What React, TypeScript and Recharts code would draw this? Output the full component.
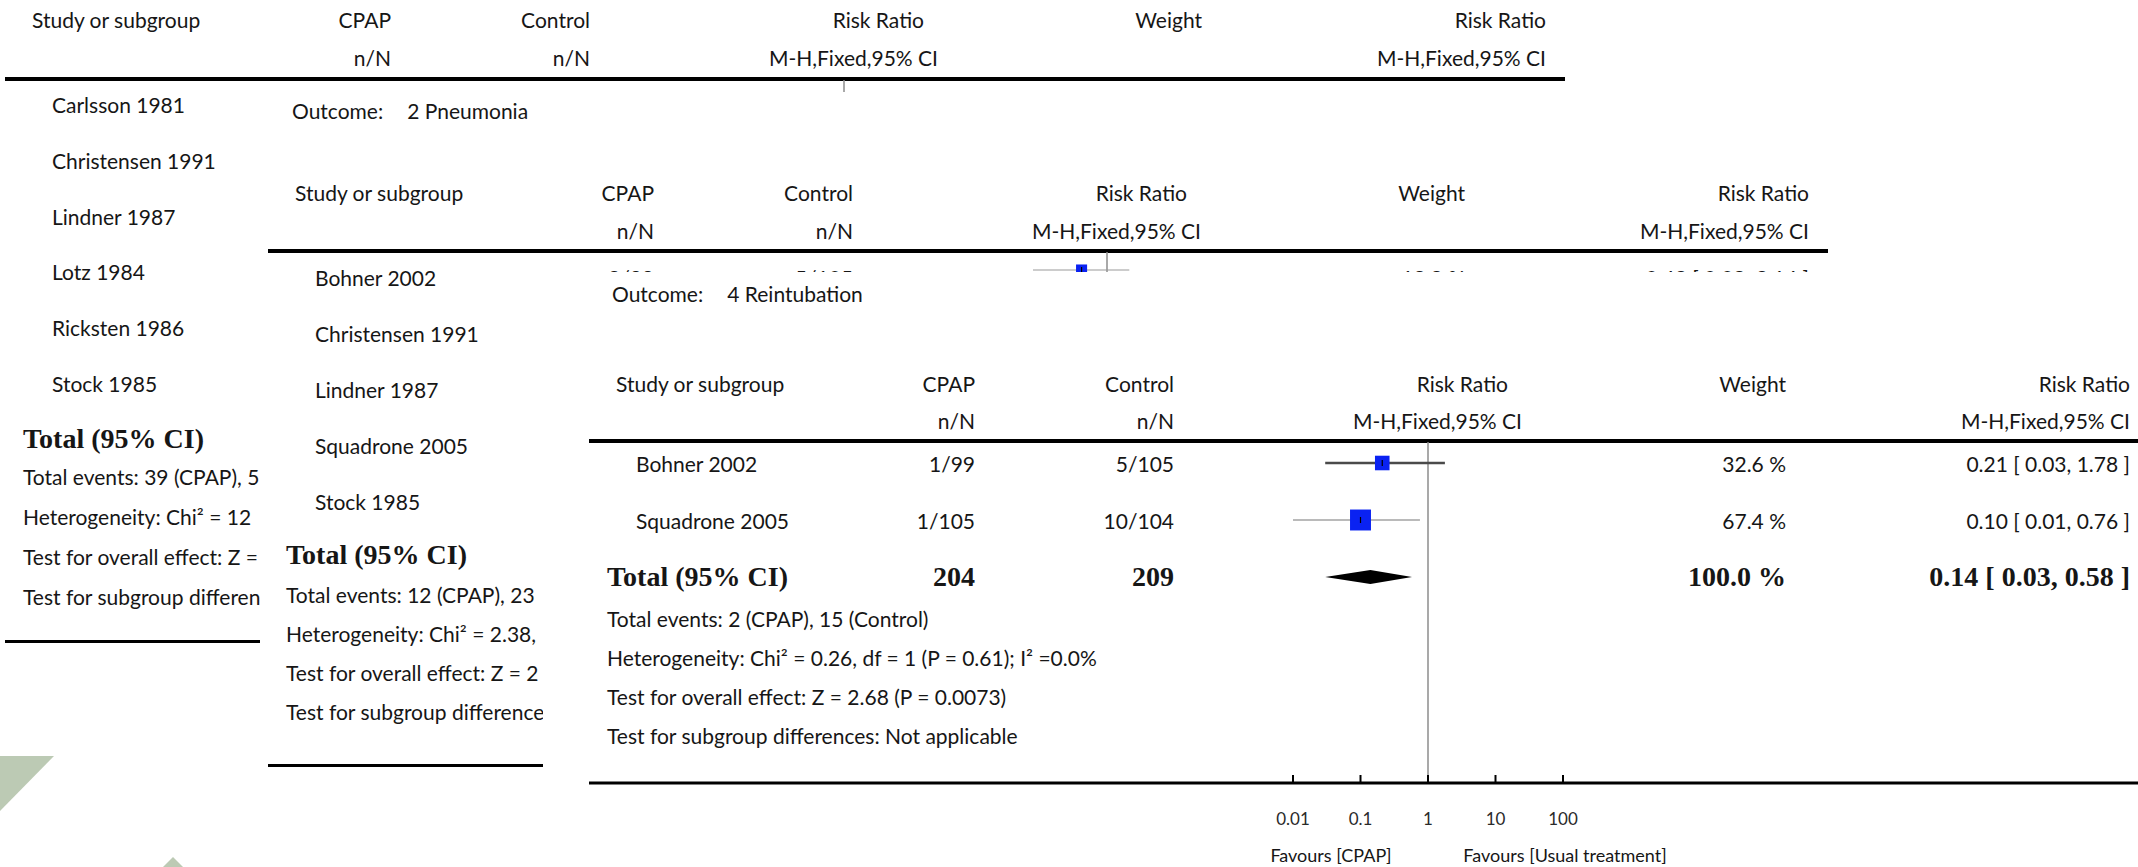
import React from 'react';
import { ComposedChart, XAxis, YAxis, Scatter, ReferenceLine } from 'recharts';

const W = 2138;
const H = 867;
const DECADE_PX = 67.5;

const FONT = "Lato, 'Open Sans', sans-serif";
const SERIF = "'Liberation Serif', 'Times New Roman', serif";
const INK = '#161616';

// Outcome 4: Reintubation
const reintStudies = ['Bohner 2002', 'Squadrone 2005'];
const reintCpap = ['1/99', '1/105'];
const reintControl = ['5/105', '10/104'];
const reintWeight = [32.6, 67.4];
const reintRR = [0.21, 0.1];
const reintLow = [0.03, 0.01];
const reintHigh = [1.78, 0.76];
const reintTotalN = [204, 209];
const reintTotalRR = [0.14, 0.03, 0.58];
const reintStats = [
  'Total events: 2 (CPAP), 15 (Control)',
  'Heterogeneity: Chi² = 0.26, df = 1 (P = 0.61); I² =0.0%',
  'Test for overall effect: Z = 2.68 (P = 0.0073)',
  'Test for subgroup differences: Not applicable',
];

// Outcome 2: Pneumonia (only the first row's numbers peek out)
const pneuStudies = ['Bohner 2002', 'Christensen 1991', 'Lindner 1987', 'Squadrone 2005', 'Stock 1985'];
const pneuCpap = ['2/99'];
const pneuControl = ['5/105'];
const pneuWeight = [18.8];
const pneuRR = [0.42];
const pneuLow = [0.08];
const pneuHigh = [2.14];
const pneuStats = [
  'Total events: 12 (CPAP), 23',
  'Heterogeneity: Chi² = 2.38,',
  'Test for overall effect: Z = 2',
  'Test for subgroup difference',
];

// first outcome (back sheet)
const firstStudies = ['Carlsson 1981', 'Christensen 1991', 'Lindner 1987', 'Lotz 1984', 'Ricksten 1986', 'Stock 1985'];
const firstStats = [
  'Total events: 39 (CPAP), 5',
  'Heterogeneity: Chi² = 12',
  'Test for overall effect: Z =',
  'Test for subgroup differen',
];

const axisTicks = [0.01, 0.1, 1, 10, 100];

// column anchors of the front sheet; the other sheets are shifted by dx
const COLS = {
  head: 616,
  study: 636,
  total: 607,
  cpap: 975,
  control: 1174,
  rrHead: 1508,
  mh: 1522,
  weight: 1786,
  ci: 2130,
  nullX: 1428,
  ruleL: 589,
  ruleR: 2149,
};

const fmtCI = (e: number, l: number, h: number) => `${e.toFixed(2)} [ ${l.toFixed(2)}, ${h.toFixed(2)} ]`;

type TxtProps = {
  x: number;
  y: number;
  anchor?: 'start' | 'middle' | 'end';
  size?: number;
  bold?: boolean;
  serif?: boolean;
  color?: string;
  children: React.ReactNode;
};

function Txt({ x, y, anchor = 'start', size = 21, bold = false, serif = false, color = INK, children }: TxtProps) {
  const tx = anchor === 'end' ? '-100%' : anchor === 'middle' ? '-50%' : '0';
  return (
    <div
      style={{
        position: 'absolute',
        left: x,
        top: y,
        transform: `translate(${tx}, -50%)`,
        fontFamily: serif ? SERIF : FONT,
        fontWeight: bold ? 700 : 400,
        fontSize: size,
        lineHeight: 1,
        color,
        whiteSpace: 'nowrap',
      }}
    >
      {children}
    </div>
  );
}

function Rule({ x1, x2, y, w = 3.5 }: { x1: number; x2: number; y: number; w?: number }) {
  return <div style={{ position: 'absolute', left: x1, top: y - w / 2, width: x2 - x1, height: w, background: '#000' }} />;
}

function Sheet({ left, top, right, bottom }: { left: number; top: number; right: number; bottom: number }) {
  return <div style={{ position: 'absolute', left, top, width: right - left, height: bottom - top, background: '#fff' }} />;
}

// page-sized clipping box
function Clip({ right = W, bottom = H, children }: { right?: number; bottom?: number; children: React.ReactNode }) {
  return <div style={{ position: 'absolute', left: 0, top: 0, width: right, height: bottom, overflow: 'hidden' }}>{children}</div>;
}

type Layout = {
  dx: number;
  head: [number, number];
  rule: number;
  rowY: number;
  rowH: number;
  totalY: number;
  statsY: number;
  statsGap: number;
  bottomRule?: number;
  statsClip?: number;
  valuesClip?: number;
};

type TableProps = {
  L: Layout;
  studies: string[];
  cpap: string[];
  control: string[];
  weight: number[];
  rr: number[];
  low: number[];
  high: number[];
  stats: string[];
  totalN?: number[];
  totalRR?: number[];
};

function Table({ L, studies, cpap, control, weight, rr, low, high, stats, totalN, totalRR }: TableProps) {
  const c = (k: keyof typeof COLS) => COLS[k] + L.dx;
  const [h1, h2] = L.head;
  return (
    <>
      <Txt x={c('head')} y={h1}>Study or subgroup</Txt>
      <Txt x={c('cpap')} y={h1} anchor="end">CPAP</Txt>
      <Txt x={c('control')} y={h1} anchor="end">Control</Txt>
      <Txt x={c('rrHead')} y={h1} anchor="end">Risk Ratio</Txt>
      <Txt x={c('weight')} y={h1} anchor="end">Weight</Txt>
      <Txt x={c('ci')} y={h1} anchor="end">Risk Ratio</Txt>
      <Txt x={c('cpap')} y={h2} anchor="end">n/N</Txt>
      <Txt x={c('control')} y={h2} anchor="end">n/N</Txt>
      <Txt x={c('mh')} y={h2} anchor="end">M-H,Fixed,95% CI</Txt>
      <Txt x={c('ci')} y={h2} anchor="end">M-H,Fixed,95% CI</Txt>
      <Rule x1={c('ruleL')} x2={c('ruleR')} y={L.rule} />

      {studies.map((s, i) => (
        <Txt key={s} x={c('study')} y={L.rowY + i * L.rowH}>{s}</Txt>
      ))}
      <Clip bottom={L.valuesClip}>
        {rr.map((v, i) => {
          const y = L.rowY + i * L.rowH;
          return (
            <React.Fragment key={i}>
              <Txt x={c('cpap')} y={y} anchor="end">{cpap[i]}</Txt>
              <Txt x={c('control')} y={y} anchor="end">{control[i]}</Txt>
              <Txt x={c('weight')} y={y} anchor="end">{`${weight[i].toFixed(1)} %`}</Txt>
              <Txt x={c('ci')} y={y} anchor="end">{fmtCI(v, low[i], high[i])}</Txt>
            </React.Fragment>
          );
        })}
      </Clip>

      <Txt x={c('total')} y={L.totalY} size={28} bold serif>Total (95% CI)</Txt>
      {totalN && totalRR && (
        <>
          <Txt x={c('cpap')} y={L.totalY} anchor="end" size={28} bold serif>{totalN[0]}</Txt>
          <Txt x={c('control')} y={L.totalY} anchor="end" size={28} bold serif>{totalN[1]}</Txt>
          <Txt x={c('weight')} y={L.totalY} anchor="end" size={28} bold serif>
            {`${weight.reduce((a, b) => a + b, 0).toFixed(1)} %`}
          </Txt>
          <Txt x={c('ci')} y={L.totalY} anchor="end" size={28} bold serif>
            {fmtCI(totalRR[0], totalRR[1], totalRR[2])}
          </Txt>
        </>
      )}

      <Clip right={L.statsClip}>
        {stats.map((s, i) => (
          <Txt key={s} x={c('total')} y={L.statsY + i * L.statsGap}>{s}</Txt>
        ))}
      </Clip>
      {L.bottomRule !== undefined && <Rule x1={c('ruleL')} x2={c('ruleR')} y={L.bottomRule} w={3} />}
    </>
  );
}

function Square(props: any) {
  const { cx, cy, payload } = props;
  const s = 2.55 * Math.sqrt(payload.w);
  return (
    <g>
      <rect x={cx - s / 2} y={cy - s / 2} width={s} height={s} fill="#0a22f2" />
      <line x1={cx} x2={cx} y1={cy - 3} y2={cy + 3} stroke="#000" strokeWidth={1.2} />
    </g>
  );
}

const noShape = () => <g />;

// filled diamond through the lower bound, estimate and upper bound
const diamond = (props: any) => {
  const [a, m, b] = props.points;
  const h = 7;
  return <polygon points={`${a.x},${a.y} ${m.x},${m.y - h} ${b.x},${b.y} ${m.x},${m.y + h}`} fill="#000" />;
};

function AxisTick(props: any) {
  const { x, y, payload } = props;
  return (
    <g>
      <line x1={x} x2={x} y1={y - 8} y2={y} stroke="#000" strokeWidth={2} />
      <text x={x} y={y + 35} textAnchor="middle" dominantBaseline="central" fontFamily={FONT} fontSize={17} fill="#2a2a2a">
        {payload.value}
      </text>
    </g>
  );
}

type ForestProps = {
  nullX: number;
  plotLeft: number;
  plotRight: number;
  plotTop: number;
  plotBottom: number;
  markY: number;
  rowH: number;
  rr: number[];
  low: number[];
  high: number[];
  weight: number[];
  ciStyle: { stroke: string; width: number }[];
  total?: number[];
  withAxis?: boolean;
};

function Forest({ nullX, plotLeft, plotRight, plotTop, plotBottom, markY, rowH, rr, low, high, weight, ciStyle, total, withAxis = false }: ForestProps) {
  const xDomain = [10 ** ((plotLeft - nullX) / DECADE_PX), 10 ** ((plotRight - nullX) / DECADE_PX)];
  const yDomain = [(plotTop - markY) / rowH, (plotBottom - markY) / rowH];
  const squares = rr.map((v, i) => ({ x: v, y: i, w: weight[i] }));
  const totalRow = rr.length;
  const diamondPts = total ? [total[1], total[0], total[2]].map((x) => ({ x, y: totalRow })) : [];

  return (
    <div style={{ position: 'absolute', left: 0, top: 0, width: W, height: H }}>
      <ComposedChart
        width={W}
        height={H}
        margin={{ top: plotTop, left: plotLeft, right: W - plotRight, bottom: withAxis ? 0 : H - plotBottom }}
      >
        <XAxis
          type="number"
          dataKey="x"
          scale="log"
          domain={xDomain}
          allowDataOverflow
          hide={!withAxis}
          height={withAxis ? H - plotBottom : 0}
          ticks={axisTicks}
          interval={0}
          tickLine={false}
          tickSize={0}
          tickMargin={0}
          tick={<AxisTick />}
          axisLine={{ stroke: '#000', strokeWidth: 3 }}
        />
        <YAxis type="number" dataKey="y" domain={yDomain} reversed allowDataOverflow hide />
        <ReferenceLine x={1} stroke="#8c8c8c" strokeWidth={1.5} />
        {rr.map((_, i) => (
          <ReferenceLine
            key={i}
            segment={[{ x: low[i], y: i }, { x: high[i], y: i }]}
            stroke={ciStyle[i].stroke}
            strokeWidth={ciStyle[i].width}
            ifOverflow="visible"
          />
        ))}
        <Scatter data={squares} shape={<Square />} isAnimationActive={false} />
        {total && <Scatter data={diamondPts} line={diamond} shape={noShape} isAnimationActive={false} />}
      </ComposedChart>
    </div>
  );
}

const layoutA: Layout = {
  dx: -584, head: [19, 57], rule: 79, rowY: 104, rowH: 55.8, totalY: 439,
  statsY: 476, statsGap: 40, bottomRule: 641, statsClip: 260,
};
const layoutB: Layout = {
  dx: -321, head: [192, 230], rule: 251, rowY: 277, rowH: 56, totalY: 555,
  statsY: 594, statsGap: 39, bottomRule: 765, statsClip: 543, valuesClip: 272,
};
const layoutC: Layout = { dx: 0, head: [383, 420], rule: 441, rowY: 463, rowH: 57, totalY: 577, statsY: 618, statsGap: 39 };

function Outcome({ x, y, num, name }: { x: number; y: number; num: number; name: string }) {
  return (
    <Txt x={x} y={y}>
      Outcome:<span style={{ marginLeft: 24 }}>{num} {name}</span>
    </Txt>
  );
}

export default function App() {
  return (
    <div style={{ position: 'fixed', left: 0, top: 0, width: W, height: H, background: '#fff', overflow: 'hidden' }}>
      {/* back sheet */}
      <Table L={layoutA} studies={firstStudies} cpap={[]} control={[]} weight={[]} rr={[]} low={[]} high={[]} stats={firstStats} />
      <Forest
        nullX={COLS.nullX + layoutA.dx}
        plotLeft={COLS.ruleL + layoutA.dx}
        plotRight={COLS.ruleR + layoutA.dx}
        plotTop={layoutA.rule + 1}
        plotBottom={620}
        markY={layoutA.rowY}
        rowH={layoutA.rowH}
        rr={[]}
        low={[]}
        high={[]}
        weight={[]}
        ciStyle={[]}
      />

      {/* pneumonia sheet */}
      <Sheet left={260} top={92} right={1840} bottom={H} />
      <Outcome x={292} y={110} num={2} name="Pneumonia" />
      <Table
        L={layoutB}
        studies={pneuStudies}
        cpap={pneuCpap}
        control={pneuControl}
        weight={pneuWeight}
        rr={pneuRR}
        low={pneuLow}
        high={pneuHigh}
        stats={pneuStats}
      />
      <Forest
        nullX={COLS.nullX + layoutB.dx}
        plotLeft={COLS.ruleL + layoutB.dx}
        plotRight={COLS.ruleR + layoutB.dx}
        plotTop={layoutB.rule + 1}
        plotBottom={740}
        markY={270}
        rowH={layoutB.rowH}
        rr={pneuRR}
        low={pneuLow}
        high={pneuHigh}
        weight={pneuWeight}
        ciStyle={[{ stroke: '#9a9a9a', width: 1.2 }]}
      />

      {/* reintubation sheet */}
      <Sheet left={543} top={272} right={W} bottom={H} />
      <Outcome x={612} y={293} num={4} name="Reintubation" />
      <Table
        L={layoutC}
        studies={reintStudies}
        cpap={reintCpap}
        control={reintControl}
        weight={reintWeight}
        rr={reintRR}
        low={reintLow}
        high={reintHigh}
        stats={reintStats}
        totalN={reintTotalN}
        totalRR={reintTotalRR}
      />
      <Forest
        nullX={COLS.nullX}
        plotLeft={COLS.ruleL}
        plotRight={W}
        plotTop={layoutC.rule + 1}
        plotBottom={783}
        markY={layoutC.rowY}
        rowH={layoutC.rowH}
        rr={reintRR}
        low={reintLow}
        high={reintHigh}
        weight={reintWeight}
        ciStyle={[
          { stroke: '#4a4a4a', width: 2.6 },
          { stroke: '#777', width: 1.2 },
        ]}
        total={reintTotalRR}
        withAxis
      />
      <Txt x={1331} y={855} anchor="middle" size={18}>Favours [CPAP]</Txt>
      <Txt x={1565} y={855} anchor="middle" size={18}>Favours [Usual treatment]</Txt>

      {/* slide corner decoration */}
      <svg width={W} height={H} style={{ position: 'absolute', left: 0, top: 0, pointerEvents: 'none' }}>
        <polygon points="0,756 54,756 0,811" fill="#bccab4" />
        <polygon points="173,857 160,870 186,870" fill="#bccab4" />
      </svg>
    </div>
  );
}
